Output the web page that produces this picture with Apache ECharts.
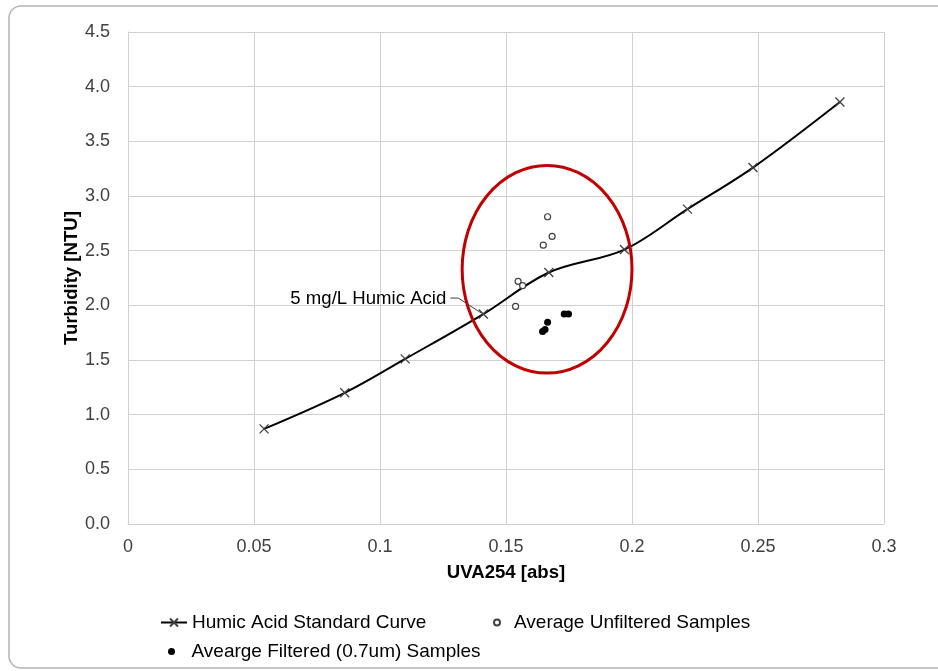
<!DOCTYPE html>
<html>
<head>
<meta charset="utf-8">
<script src="https://cdn.jsdelivr.net/npm/echarts@6/dist/echarts.min.js"></script>
<style>
html,body{margin:0;padding:0;background:#fff;}
#chart{width:938px;height:671px;}
</style>
</head>
<body>
<div id="chart"></div>
<script>
// ---- data ----
var curveX = [0.054, 0.086, 0.110, 0.141, 0.167, 0.197, 0.222, 0.248, 0.2825];
var curveY = [0.87, 1.20, 1.51, 1.92, 2.30, 2.51, 2.88, 3.26, 3.86];
var unfilteredX = [0.1665, 0.1683, 0.1648, 0.1548, 0.1566, 0.1538];
var unfilteredY = [2.81, 2.63, 2.55, 2.22, 2.18, 1.99];
var filteredX = [0.1665, 0.1731, 0.1748, 0.1645, 0.1655];
var filteredY = [1.845, 1.92, 1.92, 1.76, 1.78];
var ellipseCenter = [0.1663, 2.33];
var ellipseRadius = [0.0337, 0.95];
var annotationPoint = [0.141, 1.92];
var annotationText = '5 mg/L Humic Acid';
var seriesNames = ['Humic Acid Standard Curve', 'Average Unfiltered Samples', 'Avearge Filtered (0.7um) Samples'];
var xTitle = 'UVA254 [abs]';
var yTitle = 'Turbidity [NTU]';

function zip(a, b) { return a.map(function (v, i) { return [v, b[i]]; }); }

var FONT = 'Liberation Sans, Arial, sans-serif';
var xMark = 'path://M0,0L10,10M10,0L0,10';

var chart = echarts.init(document.getElementById('chart'), null, {renderer: 'canvas'});
var option = {
  backgroundColor: '#fff',
  animation: false,
  textStyle: {fontFamily: FONT},
  graphic: [{
    type: 'rect', z: -10, silent: true,
    shape: {x: 9, y: 6, width: 1000, height: 662, r: 12},
    style: {fill: 'none', stroke: '#b4b4b4', lineWidth: 1.5}
  }],
  grid: {left: 128, top: 32, width: 756, height: 492, containLabel: false},
  xAxis: {
    type: 'value', min: 0, max: 0.3, interval: 0.05,
    name: xTitle, nameLocation: 'middle', nameGap: 39,
    nameTextStyle: {fontSize: 18.6, fontWeight: 'bold', color: '#000', fontFamily: FONT},
    axisLine: {show: true, lineStyle: {color: '#d0d0d0', width: 1}},
    axisTick: {show: false},
    axisLabel: {fontSize: 18, color: '#404040', margin: 14, fontFamily: FONT},
    splitLine: {show: true, lineStyle: {color: '#d0d0d0', width: 1}}
  },
  yAxis: {
    type: 'value', min: 0, max: 4.5, interval: 0.5,
    name: yTitle, nameLocation: 'middle', nameGap: 47, nameRotate: 90,
    nameMoveOverlap: false,
    nameTextStyle: {fontSize: 18.6, fontWeight: 'bold', color: '#000', fontFamily: FONT},
    axisLine: {show: true, lineStyle: {color: '#d0d0d0', width: 1}},
    axisTick: {show: false},
    axisLabel: {fontSize: 18, color: '#404040', margin: 18, fontFamily: FONT,
      formatter: function (v) { return v.toFixed(1); }},
    splitLine: {show: true, lineStyle: {color: '#d0d0d0', width: 1}}
  },
  legend: [
    {data: [seriesNames[0]], left: 155, top: 608, itemWidth: 26, itemHeight: 10, selectedMode: false,
     textStyle: {fontSize: 19, color: '#000', fontFamily: FONT}},
    {data: [seriesNames[1]], left: 488, top: 608, itemWidth: 24, itemHeight: 6, selectedMode: false,
     textStyle: {fontSize: 19, color: '#000', fontFamily: FONT}},
    {data: [seriesNames[2]], left: 163, top: 637, itemWidth: 30, itemHeight: 7, selectedMode: false,
     textStyle: {fontSize: 19, color: '#000', fontFamily: FONT}}
  ],
  series: [
    {
      name: seriesNames[0], type: 'line', data: zip(curveX, curveY),
      smooth: 0.35, symbol: xMark, symbolSize: 9,
      lineStyle: {color: '#000', width: 2},
      itemStyle: {color: '#000', borderColor: '#404040', borderWidth: 1.3},
      z: 3
    },
    {
      name: seriesNames[1], type: 'scatter', data: zip(unfilteredX, unfilteredY),
      symbol: 'circle', symbolSize: 6,
      itemStyle: {color: '#fff', borderColor: '#404040', borderWidth: 1.2, opacity: 1},
      z: 4
    },
    {
      name: seriesNames[2], type: 'scatter', data: zip(filteredX, filteredY),
      symbol: 'circle', symbolSize: 7,
      itemStyle: {color: '#000', opacity: 1},
      z: 4
    },
    {
      name: 'ellipse', type: 'custom', z: 5, silent: true,
      data: [[ellipseCenter[0], ellipseCenter[1], ellipseRadius[0], ellipseRadius[1]]],
      renderItem: function (params, api) {
        var c = api.coord([api.value(0), api.value(1)]);
        var e = api.coord([api.value(0) + api.value(2), api.value(1) + api.value(3)]);
        var rx = e[0] - c[0], ry = c[1] - e[1];
        var d = 'M' + (c[0] - rx) + ',' + c[1] +
          'A' + rx + ',' + ry + ',0,1,0,' + (c[0] + rx) + ',' + c[1] +
          'A' + rx + ',' + ry + ',0,1,0,' + (c[0] - rx) + ',' + c[1] + 'Z';
        return {type: 'path', shape: {pathData: d}, style: {fill: 'none', stroke: '#c00000', lineWidth: 3}};
      }
    },
    {
      name: 'annotation', type: 'custom', z: 6, silent: true,
      data: [annotationPoint],
      renderItem: function (params, api) {
        var p = api.coord([api.value(0), api.value(1)]);
        return {
          type: 'group',
          children: [
            {type: 'text', style: {text: annotationText, x: p[0] - 37, y: p[1] - 15,
              align: 'right', verticalAlign: 'middle', fontSize: 18.6, fontFamily: FONT, fill: '#000'}},
            {type: 'polyline', shape: {points: [[p[0] - 33, p[1] - 16], [p[0] - 25, p[1] - 16], [p[0] - 2, p[1] - 1]]},
              style: {stroke: '#404040', lineWidth: 1, fill: 'none'}}
          ]
        };
      }
    }
  ]
};
chart.setOption(option);
</script>
</body>
</html>
